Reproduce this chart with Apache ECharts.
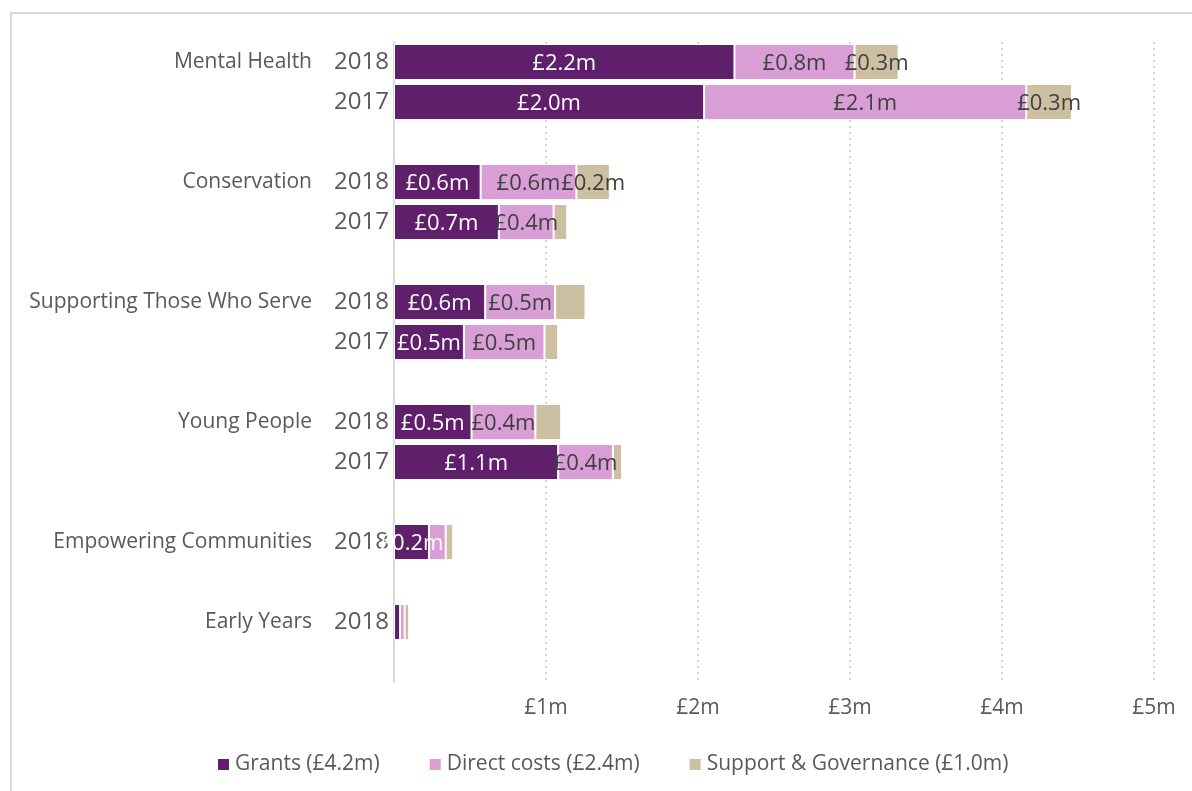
<!DOCTYPE html>
<html>
<head>
<meta charset="utf-8">
<script src="https://cdn.jsdelivr.net/npm/echarts@6/dist/echarts.min.js"></script>
<style>
  html, body { margin: 0; padding: 0; background: #fff; }
  #chart { width: 1192px; height: 791px; }
</style>
</head>
<body>
<div id="chart"></div>
<script>
(function () {

  ///////////////////////////////////////////////////////////////////
  // data (one slot per row, blank slots are the gaps between groups)
  ///////////////////////////////////////////////////////////////////
  var groups = ['Mental Health', '', '', 'Conservation', '', '', 'Supporting Those Who Serve', '', '',
    'Young People', '', '', 'Empowering Communities', '', 'Early Years', ''];
  var years = ['2018', '2017', '', '2018', '2017', '', '2018', '2017', '',
    '2018', '2017', '', '2018', '', '2018', ''];

  var grants  = [2.24, 2.04, null, 0.57, 0.69, null, 0.60, 0.46, null, 0.51, 1.08, null, 0.23, null, 0.04, null];
  var direct  = [0.79, 2.12, null, 0.63, 0.36, null, 0.46, 0.53, null, 0.42, 0.36, null, 0.11, null, 0.03, null];
  var support = [0.29, 0.30, null, 0.22, 0.09, null, 0.20, 0.09, null, 0.17, 0.06, null, 0.05, null, 0.03, null];

  // which bars carry a data label
  var grantsLabel  = [1, 1, 0, 1, 1, 0, 1, 1, 0, 1, 1, 0, 1, 0, 0, 0];
  var directLabel  = [1, 1, 0, 1, 1, 0, 1, 1, 0, 1, 1, 0, 0, 0, 0, 0];
  var supportLabel = [1, 1, 0, 1, 0, 0, 0, 0, 0, 0, 0, 0, 0, 0, 0, 0];

  var seriesNames = ['Grants (£4.2m)', 'Direct costs (£2.4m)', 'Support & Governance (£1.0m)'];
  var xTicks = ['', '£1m', '£2m', '£3m', '£4m', '£5m'];

  var FONT = 'Open Sans';
  var TEXT = '#595959';

  function money(v) {
    return '£' + (Math.round(v * 10) / 10).toFixed(1) + 'm';
  }

  function build(values, flags, labelColor) {
    return values.map(function (v, i) {
      return {
        value: v,
        label: { show: !!flags[i] && v != null, color: labelColor }
      };
    });
  }

  function barSeries(name, values, flags, color, labelColor) {
    return {
      name: name,
      type: 'bar',
      stack: 'total',
      barWidth: '90%',
      itemStyle: { color: color, borderColor: '#fff', borderWidth: 1 },
      label: {
        position: 'inside',
        fontFamily: FONT,
        fontSize: 22,
        offset: [0, 2],
        formatter: function (p) { return money(p.value); }
      },
      data: build(values, flags, labelColor)
    };
  }

  var myChart = echarts.init(document.getElementById('chart'));

  var option = {
    animation: false,
    backgroundColor: '#fff',
    textStyle: { fontFamily: FONT },
    graphic: [{
      type: 'rect',
      shape: { x: 11, y: 13, width: 1200, height: 800 },
      style: { fill: 'none', stroke: '#d9d9d9', lineWidth: 2 },
      silent: true
    }],
    grid: { left: 394, right: 38, top: 42, bottom: 109 },
    legend: {
      left: 211,
      top: 749,
      icon: 'rect',
      itemWidth: 13,
      itemHeight: 13,
      itemGap: 48,
      textStyle: { color: TEXT, fontSize: 21, fontFamily: FONT },
      data: seriesNames
    },
    xAxis: {
      type: 'value',
      min: 0,
      max: 5,
      interval: 1,
      axisLine: { show: false },
      axisTick: { show: false },
      axisLabel: {
        color: TEXT, fontSize: 21, fontFamily: FONT, margin: 16,
        formatter: function (v) { return xTicks[v]; }
      },
      splitLine: {
        show: true,
        lineStyle: { color: '#d4d4d4', width: 2, type: [2, 4] }
      }
    },
    yAxis: [{
      type: 'category',
      inverse: true,
      data: years,
      axisLine: { show: true, lineStyle: { color: '#d9d9d9', width: 2 } },
      axisTick: { show: false },
      axisLabel: { color: TEXT, fontSize: 24, fontFamily: FONT, margin: 5, interval: 0 }
    }, {
      type: 'category',
      inverse: true,
      position: 'left',
      offset: 77,
      data: groups,
      axisLine: { show: false },
      axisTick: { show: false },
      axisLabel: { color: TEXT, fontSize: 21, fontFamily: FONT, margin: 5, interval: 0 }
    }],
    series: [
      barSeries(seriesNames[0], grants, grantsLabel, '#5f1f6b', '#ffffff'),
      barSeries(seriesNames[1], direct, directLabel, '#d99ed6', '#404040'),
      barSeries(seriesNames[2], support, supportLabel, '#cdbfa1', '#404040')
    ]
  };

  myChart.setOption(option);
}());
</script>
</body>
</html>
